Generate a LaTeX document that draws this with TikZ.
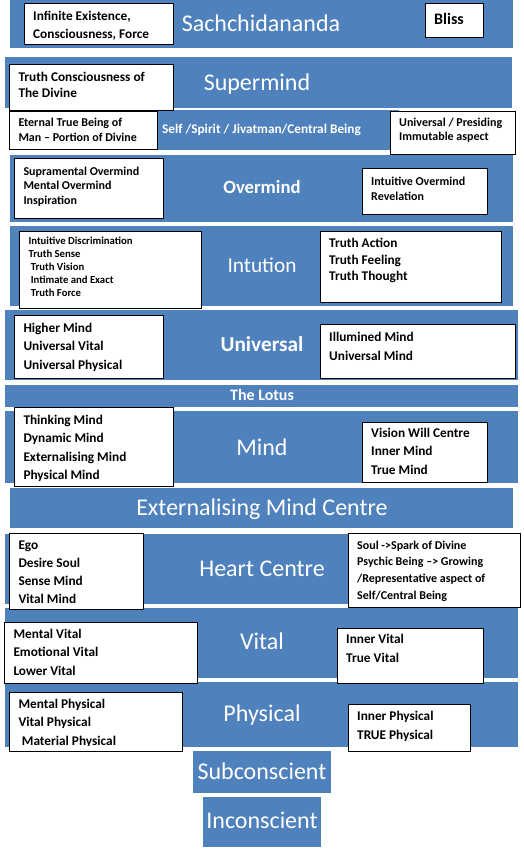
\documentclass[tikz,border=0pt]{standalone}
\usepackage{fontspec}
\setmainfont{Carlito}
\definecolor{bandblue}{HTML}{4F81BD}
\tikzset{
  band/.style={fill=bandblue, draw=none, inner sep=0pt, outer sep=0pt},
  tbox/.style={fill=white, draw=black, line width=0.9pt, inner sep=0pt, outer sep=0pt},
  title/.style={text=white, inner sep=0pt, anchor=base, font=\fontsize{24}{28}\selectfont},
  btitle/.style={text=white, inner sep=0pt, anchor=base, font=\fontsize{#1}{#1}\selectfont\bfseries},
  tline/.style={inner sep=0pt, anchor=base west, text=black},
  f8/.style={font=\fontsize{10.7}{12}\selectfont\bfseries},
  f9/.style={font=\fontsize{12}{14}\selectfont\bfseries},
  f10/.style={font=\fontsize{13.3}{16}\selectfont\bfseries},
}
\newcommand\rectnode[6]{%
  \pgfmathsetmacro\rw{#5-#3}\pgfmathsetmacro\rh{#6-#4}%
  \node[#1, anchor=north west, minimum width=\rw pt, minimum height=\rh pt] (#2) at (#3,#4) {};}
\newcommand\tlines[6][]{%
  \foreach \tl [count=\ti] in {#6} {
    \node[tline,#1] (#2-\ti) at (#3, {#4+(\ti-1)*#5}) {\tl};
  }}
\begin{document}
\begin{tikzpicture}[x=1pt,y=-1pt]
\useasboundingbox (0,0) rectangle (523,849);
% bands
\rectnode{band}{bSach}{10}{0}{513}{48}
\rectnode{band}{bSuper}{5}{57}{512}{108}
\rectnode{band}{bSelf}{126}{110}{399}{150}
\rectnode{band}{bOver}{10}{155}{513}{222}
\rectnode{band}{bIntu}{10}{226}{513}{306}
\rectnode{band}{bUniv}{5}{310}{518}{380}
\rectnode{band}{bLotus}{5}{385}{518}{407}
\rectnode{band}{bMind}{5}{411}{518}{483}
\rectnode{band}{bExt}{10}{488}{513}{528}
\rectnode{band}{bHeart}{5}{534}{518}{604}
\rectnode{band}{bVital}{5}{608}{518}{678}
\rectnode{band}{bPhys}{5}{682}{518}{747}
\rectnode{band}{bSub}{193}{751}{331}{793}
\rectnode{band}{bIncon}{203}{797}{321}{847}
% titles
\node[title] (tSach) at (261,31) {Sachchidananda};
\node[title] (tSuper) at (257,90) {Supermind};
\node[btitle=13.3] (tSelf) at (261.5,133.3) {Self /Spirit / Jivatman/Central Being};
\node[btitle=18.7] (tOver) at (262,193.7) {Overmind};
\node[title, font=\fontsize{21.3}{24}\selectfont] (tIntu) at (262,272) {Intution};
\node[btitle=21.3] (tUniv) at (262,351.7) {Universal};
\node[btitle=16] (tLotus) at (262,400.5) {The Lotus};
\node[title] (tMind) at (262,455) {Mind};
\node[title] (tExt) at (262,515.7) {Externalising Mind Centre};
\node[title] (tHeart) at (262,576) {Heart Centre};
\node[title] (tVital) at (262,649.3) {Vital};
\node[title] (tPhys) at (262,721) {Physical};
\node[title] (tSub) at (262,779.3) {Subconscient};
\node[title] (tIncon) at (262,828.7) {Inconscient};
% boxes
\rectnode{tbox}{xInf}{24}{3}{173}{44}
\rectnode{tbox}{xBliss}{425}{3}{483}{37}
\rectnode{tbox}{xTruthC}{9}{64}{173}{110}
\rectnode{tbox}{xEternal}{9}{111}{157}{149}
\rectnode{tbox}{xPresid}{390}{111}{515}{154}
\rectnode{tbox}{xSupra}{14}{158}{163}{218}
\rectnode{tbox}{xIntOver}{362}{168}{487}{214}
\rectnode{tbox}{xIntDisc}{19}{231}{201}{308}
\rectnode{tbox}{xTruthA}{320}{231}{501}{302}
\rectnode{tbox}{xHigher}{14}{315}{163}{378}
\rectnode{tbox}{xIllum}{320}{324}{515}{378}
\rectnode{tbox}{xThink}{14}{407}{173}{486}
\rectnode{tbox}{xVision}{362}{422}{487}{482}
\rectnode{tbox}{xEgo}{9}{533}{143}{609}
\rectnode{tbox}{xSoul}{348}{533}{520}{607}
\rectnode{tbox}{xMentV}{4}{622}{197}{683}
\rectnode{tbox}{xInnerV}{337}{628}{483}{683}
\rectnode{tbox}{xMentP}{9}{692}{182}{751}
\rectnode{tbox}{xInnerP}{348}{704}{470}{751}
% box texts
\tlines[f10]{lInf}{33}{20.7}{18}{{Infinite Existence,},{Consciousness, Force}}
\node[tline, font=\fontsize{16}{18}\selectfont\bfseries] (lBliss) at (434,24) {Bliss};
\tlines[f10]{lTruthC}{18.3}{81}{16.5}{Truth Consciousness of,The Divine}
\tlines[f9]{lEternal}{18.3}{126}{15.3}{Eternal True Being of,Man – Portion of Divine}
\tlines[f9]{lPresid}{399}{126}{14.3}{Universal / Presiding,Immutable aspect}
\tlines[f9]{lSupra}{23.3}{175}{14.5}{Supramental Overmind,Mental Overmind,Inspiration}
\tlines[f9]{lIntOver}{371}{185}{15}{Intuitive Overmind,Revelation}
\tlines[f8]{lIntDisc}{28.3}{244.5}{13}{Intuitive Discrimination,Truth Sense,\hspace*{2.3pt}Truth Vision,\hspace*{2.3pt}Intimate and Exact,\hspace*{2.3pt}Truth Force}
\tlines[f10]{lTruthA}{329}{247.5}{16.5}{Truth Action,Truth Feeling,Truth Thought}
\tlines[f10]{lHigher}{23.3}{332}{18.6}{Higher Mind,Universal Vital,Universal Physical}
\tlines[f10]{lIllum}{329}{341}{19}{Illumined Mind,Universal Mind}
\begin{scope}
  \clip (14,407) rectangle (173,480.5);
  \tlines[f10]{lThink}{23.3}{424}{18.6}{Thinking Mind,Dynamic Mind,Externalising Mind,Physical Mind}
\end{scope}
\tlines[f10]{lVision}{371}{437}{18.5}{Vision Will Centre,Inner Mind,True Mind}
\begin{scope}
  \clip (9,533) rectangle (143,603.5);
  \tlines[f10]{lEgo}{18.3}{549}{18.3}{Ego,Desire Soul,Sense Mind,Vital Mind}
\end{scope}
\tlines[f9]{lSoul}{357}{549}{16.7}{Soul ->Spark of Divine,Psychic Being –> Growing,/Representative aspect of,Self/Central Being}
\tlines[f10]{lMentV}{13.3}{638}{18.5}{Mental Vital,Emotional Vital,Lower Vital}
\tlines[f10]{lInnerV}{346}{643}{19}{Inner Vital,True Vital}
\begin{scope}
  \clip (9,692) rectangle (182,745.5);
  \tlines[f10]{lMentP}{18.3}{708}{18.5}{Mental Physical,Vital Physical,\hspace*{3.4pt}Material Physical}
\end{scope}
\tlines[f10]{lInnerP}{357}{720}{19}{Inner Physical,TRUE Physical}
\end{tikzpicture}
\end{document}
